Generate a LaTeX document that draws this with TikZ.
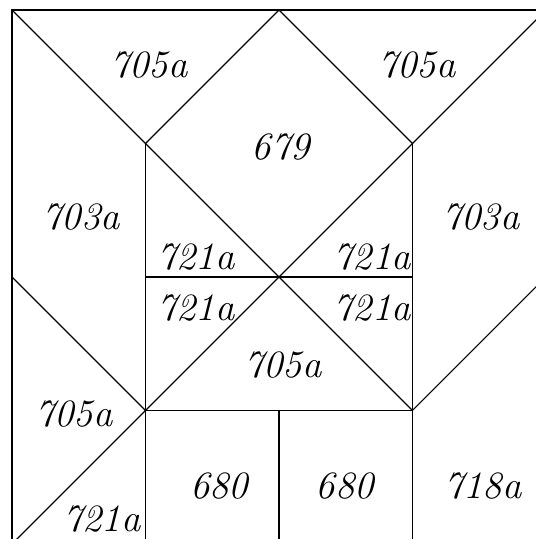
\documentclass[tikz,border=0pt]{standalone}
\usepackage{tikz}
\begin{document}
\begin{tikzpicture}[x=2cm, y=-2cm,
    every node/.style={font=\fontsize{16.5}{19}\selectfont\itshape, inner sep=0pt},
    edge/.style={line width=0.5pt, draw=black}]
    \path[use as bounding box, clip] (-0.09,-0.075) rectangle (3.925,3.963);
    % corners of the inner square and the top apex
    \coordinate (tl) at (1,1);
    \coordinate (tr) at (3,1);
    \coordinate (bl) at (1,3);
    \coordinate (br) at (3,3);
    \coordinate (apex) at (2,0);
    \coordinate (mid) at (2,2);
    \draw[edge] (0,4) -- (0,0) -- (4,0);
    \draw[edge] (tl) -- (1,4) (tr) -- (3,4) (bl) -- (br);
    \draw[edge] (0,0) -- (tl) -- (apex) -- (tr) -- (4,0);
    \draw[edge] (tl) -- (br) (tr) -- (bl);
    \draw[edge] (1,2) -- (3,2);
    \draw[edge] (0,2) -- (bl) -- (0,4);
    \draw[edge] (br) -- (4,2);
    \draw[edge] (2,3) -- (2,4);
    % labels
    \node (ftl) at (1.026,0.412) {705a};
    \node (ftr) at (3.034,0.412) {705a};
    \node (sq) at (2.015,1.026) {679};
    \node (pl) at (0.517,1.551) {703a};
    \node (pr) at (3.513,1.551) {703a};
    \node (sul) at (1.378,1.850) {721a};
    \node (sur) at (2.697,1.850) {721a};
    \node (sll) at (1.378,2.232) {721a};
    \node (slr) at (2.697,2.232) {721a};
    \node (fmid) at (2.030,2.659) {705a};
    \node (fl) at (0.464,3.026) {705a};
    \node (rl) at (1.551,3.566) {680};
    \node (rr) at (2.494,3.566) {680};
    \node (rx) at (3.528,3.566) {718a};
    \node (sbl) at (0.674,3.815) {721a};
\end{tikzpicture}
\end{document}
